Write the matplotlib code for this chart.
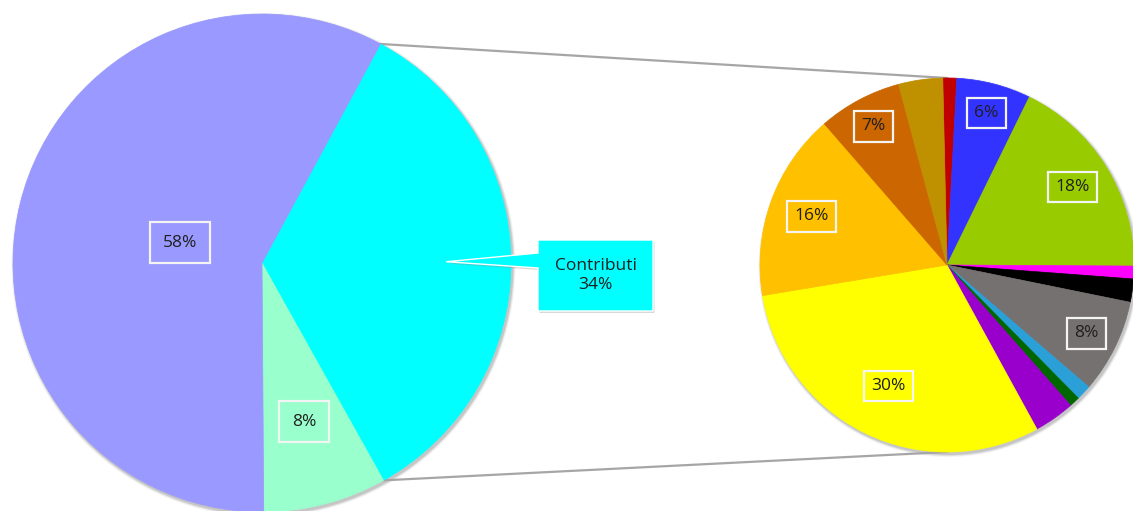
import numpy as np
import matplotlib.pyplot as plt
from matplotlib.patches import Circle, Polygon

# main pie: Contributi, small green slice, the rest
main_values = [34, 8, 58]
main_colors = ['#00FFFF', '#99FFCC', '#9999FF']
callout_name = 'Contributi'

# secondary pie, clockwise from the top
sub_values = [1.2, 6.4, 17.8, 1.1, 2.0, 8.1, 1.3, 0.9, 3.5, 30.3, 16.2, 7.2, 3.8]
sub_colors = ['#C00000', '#3333FF', '#99CC00', '#FF00FF', '#000000', '#767171',
              '#2A9FD8', '#006600', '#9900CC', '#FFFF00', '#FFC000', '#CC6600',
              '#BF9000']

H = 511
big_c = (262, H - 263)
big_r = 249
small_c = (947, H - 265)
small_r = 187
text_col = '#1f1f1f'
fs = 12.5

plt.rcParams['font.family'] = ['Open Sans', 'DejaVu Sans']

fig = plt.figure(figsize=(11.33, 5.11), dpi=100)
ax = fig.add_axes([0, 0, 1, 1])


def pct(vals):
    v = np.array(vals, dtype=float)
    return v / v.sum() * 100


def shadow(c, r):
    for k, a in [(3, 0.06), (2, 0.1), (1, 0.16)]:
        ax.add_patch(Circle((c[0] + 1.5, c[1] - 2), r + k, color='#404040',
                            alpha=a, lw=0, zorder=1))


def mid(w, c, r, f):
    t = np.radians((w.theta1 + w.theta2) / 2)
    return c[0] + f * r * np.cos(t), c[1] + f * r * np.sin(t)


def label(x, y, s, pad):
    ax.text(x, y, s, ha='center', va='center', fontsize=fs, color=text_col,
            zorder=6,
            bbox=dict(boxstyle='square,pad=%s' % pad, fc='none',
                      ec='#f4f4f4', lw=1.6))


shadow(big_c, big_r)
shadow(small_c, small_r)

big_w, _ = ax.pie(main_values, colors=main_colors, startangle=61.6,
                  counterclock=False, center=big_c, radius=big_r)
small_w, _ = ax.pie(sub_values, colors=sub_colors, startangle=91.3,
                    counterclock=False, center=small_c, radius=small_r)
for w in list(big_w) + list(small_w):
    w.set_edgecolor(w.get_facecolor())
    w.set_linewidth(0.5)
    w.set_zorder(3)

# connector lines from the split of the main pie to the secondary pie
cw = big_w[0]
pts = []
for th in (cw.theta1, cw.theta2):
    t = np.radians(th)
    pts.append((big_c[0] + big_r * np.cos(t), big_c[1] + big_r * np.sin(t)))
pts.sort(key=lambda p: p[1])
ax.plot([pts[1][0], small_c[0]], [pts[1][1], small_c[1] + small_r],
        color='#A6A6A6', lw=1.6, zorder=2)
ax.plot([pts[0][0], small_c[0]], [pts[0][1], small_c[1] - small_r],
        color='#A6A6A6', lw=1.6, zorder=2)

# percent labels
main_pct = pct(main_values)
main_dist = [None, 0.66, 0.34]
for i, w in enumerate(big_w):
    if main_dist[i] is None:
        continue
    x, y = mid(w, big_c, big_r, main_dist[i])
    label(x, y, '%d%%' % round(main_pct[i]), 0.72)

sub_pct = pct(sub_values)
sub_dist = {1: 0.84, 2: 0.79, 5: 0.83, 9: 0.72, 10: 0.77, 11: 0.84}
for i, w in enumerate(small_w):
    if sub_pct[i] < 5:
        continue
    x, y = mid(w, small_c, small_r, sub_dist.get(i, 0.8))
    label(x, y, '%d%%' % round(sub_pct[i]), 0.42)

# callout for Contributi
tx, ty = mid(cw, big_c, big_r, 0.74)
bx0, bx1 = 538, 653
by0, by1 = H - 311, H - 240
shape = [(bx0, by1), (bx1, by1), (bx1, by0), (bx0, by0), (bx0, H - 268),
         (tx, ty), (bx0, H - 253)]
ax.add_patch(Polygon([(x + 1.5, y - 2) for x, y in shape], closed=True,
                     fc='#909090', ec='none', alpha=0.35, zorder=4))
ax.add_patch(Polygon(shape, closed=True, fc=main_colors[0], ec='white',
                     lw=1.0, zorder=5))
ax.text((bx0 + bx1) / 2, (by0 + by1) / 2,
        '%s\n%d%%' % (callout_name, round(main_pct[0])),
        ha='center', va='center', fontsize=fs, color=text_col,
        linespacing=1.3, zorder=6)

ax.set_xlim(0, 1133)
ax.set_ylim(0, H)
ax.set_aspect('equal')
ax.axis('off')

plt.savefig('out.png', dpi=100)
